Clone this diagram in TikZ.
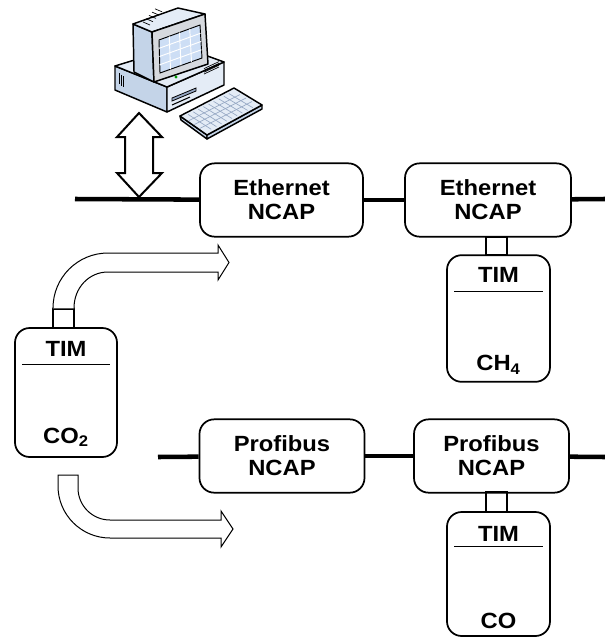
\documentclass[tikz,border=0pt]{standalone}
\usepackage{fontspec}
\setmainfont{Liberation Sans}[FakeStretch=1.08]
\usetikzlibrary{positioning,calc}

\definecolor{pclight}{RGB}{228,236,246}
\definecolor{pcmid}{RGB}{196,212,232}
\definecolor{pcdark}{RGB}{150,168,196}
\definecolor{pcscreen}{RGB}{205,222,245}
\definecolor{pcbezel}{RGB}{214,217,222}

\tikzset{
  ncap/.style={draw, line width=1.3pt, rounded corners=11pt, align=center,
    minimum width=122.25pt, minimum height=55pt, inner sep=0pt},
  tim/.style={draw, line width=1.3pt, rounded corners=11pt,
    minimum width=77.25pt, minimum height=95pt, inner sep=0pt},
  plug/.style={draw, line width=1pt, minimum width=15.75pt,
    minimum height=13.5pt, inner sep=0pt},
  bus/.style={line width=3.4pt},
  hollow/.style={draw, line width=0.75pt, fill=white, line join=miter},
  pcline/.style={draw, line width=1.1pt, line join=round}
}

\begin{document}
\begin{tikzpicture}[x=0.75pt, y=-0.75pt]\tikzstyle{every node}=[font=\bfseries\fontsize{16.5}{18}\selectfont]
\useasboundingbox (0,0) rectangle (605,640);
% computer: base unit
\draw[pcline, fill=pcmid] (115,66) -- (167,87) -- (167,112) -- (115,90) -- cycle;
\draw[pcline, fill=pclight] (167,87) -- (224,62) -- (224,85) -- (167,112) -- cycle;
\draw[pcline, fill=pclight] (115,66) -- (180,46) -- (224,62) -- (167,87) -- cycle;
\foreach \i in {0,2,4}
  \draw[line width=0.7pt] (119+\i,73+0.8*\i) -- (119+\i,84+0.8*\i);
\draw[line width=0.6pt, fill=pcdark] (172,98) -- (196,88) -- (196,91) -- (172,101) -- cycle;
\draw[line width=0.8pt] (172,105) -- (190,97);
\foreach \i in {0,2,4,6}
  \draw[line width=0.5pt] (204,74-0.9*\i) -- (219,67-0.9*\i);
% computer: monitor
\draw[pcline, fill=pcmid] (133,24) -- (152,32) -- (154,82) -- (134,72) -- cycle;
\draw[pcline, fill=pclight] (133,24) -- (178,8) -- (205,14) -- (152,32) -- cycle;
\foreach \i in {0,3,6,9,12}
  \draw[line width=0.5pt] (143+\i,22-1.1*\i) -- (150+\i,25-1.1*\i);
\draw[pcline, fill=pcbezel] (152,32) -- (205,14) -- (208,64) -- (154,82) -- cycle;
\draw[line width=0.7pt, fill=pcscreen] (159,40) -- (200,25) -- (202,58) -- (160,73) -- cycle;
\foreach \t in {0.25,0.5,0.75} {
  \draw[white, line width=0.7pt] ($(159,40)!\t!(200,25)$) -- ($(160,73)!\t!(202,58)$);
  \draw[white, line width=0.7pt] ($(159,40)!\t!(160,73)$) -- ($(200,25)!\t!(202,58)$);
}
\fill[green!60!black] (176,77) circle (1.3pt);
% computer: keyboard
\draw[pcline, fill=pcmid] (180,116) -- (207,135) -- (207,139) -- (181,120) -- cycle;
\draw[pcline, fill=pcmid] (207,135) -- (262,105) -- (262,109) -- (207,139) -- cycle;
\draw[pcline, fill=pclight] (180,116) -- (234,88) -- (262,105) -- (207,135) -- cycle;
\foreach \t in {0.1,0.2,...,0.91}
  \draw[pcdark, line width=0.5pt] ($(183,117)!\t!(234,91)$) -- ($(206,132)!\t!(258,105)$);
\foreach \t in {0.25,0.5,0.75}
  \draw[pcdark, line width=0.5pt] ($(183,117)!\t!(206,132)$) -- ($(234,91)!\t!(258,105)$);
% link computer <-> ethernet
\draw[hollow, line width=1.5pt] (139,113) -- (162,137) -- (153,137) -- (153,173) -- (162,173)
  -- (139,197) -- (117,173) -- (125,173) -- (125,137) -- (117,137) -- cycle;
% ethernet segment
\node[ncap] (ethA) at (281.5,200) {Ethernet\\NCAP};
\node[ncap, minimum width=124.5pt] (ethB) at (488,200) {Ethernet\\NCAP};
\coordinate (ethL) at (75,199);
\coordinate (ethR) at (605,199);
\draw[bus] (ethL) -- (ethA);
\draw[bus] (ethA) -- (ethB);
\draw[bus] (ethB) -- (ethR);
% ch4 tim
\node[plug] (plugCH) at (496.5,246) {};
\node[tim] (timCH) at (498.5,318.5) {};
\node[below=9.75pt of timCH.north, inner sep=0pt] (timCHtop) {TIM};
\draw[line width=0.9pt] ([xshift=6pt, yshift=-27.75pt]timCH.north west)
  -- ([xshift=-6pt, yshift=-27.75pt]timCH.north east);
\node[anchor=base, inner sep=0pt] (timCHgas) at ([yshift=9pt]timCH.south) {CH\textsubscript{4}};
% profibus segment
\node[ncap, minimum width=123.75pt] (proA) at (282,456) {Profibus\\NCAP};
\node[ncap, minimum width=116.25pt] (proB) at (491.5,456) {Profibus\\NCAP};
\coordinate (proL) at (158,457);
\coordinate (proR) at (605,457);
\draw[bus] (proL) -- (proA);
\draw[bus] (proA) -- (proB);
\draw[bus] (proB) -- (proR);
% co tim
\node[plug, minimum height=15pt] (plugCO) at (496.5,502) {};
\node[tim, minimum height=93pt] (timCO) at (498.5,574) {};
\node[below=11pt of timCO.north, inner sep=0pt] (timCOtop) {TIM};
\draw[line width=0.9pt] ([xshift=6pt, yshift=-26.25pt]timCO.north west)
  -- ([xshift=-6pt, yshift=-26.25pt]timCO.north east);
\node[anchor=base, inner sep=0pt] (timCOgas) at ([yshift=6pt]timCO.south) {CO};
% co2 tim
\node[plug, minimum height=14.25pt] (plugCOtwo) at (63.5,318.5) {};
\node[tim, minimum width=76.5pt, minimum height=96.75pt] (timCOtwo) at (66,392.5) {};
\node[below=10.5pt of timCOtwo.north, inner sep=0pt] (timCOtwotop) {TIM};
\draw[line width=0.9pt] ([xshift=6pt, yshift=-27.75pt]timCOtwo.north west)
  -- ([xshift=-6pt, yshift=-27.75pt]timCOtwo.north east);
\node[anchor=base, inner sep=0pt] (timCOtwogas) at ([yshift=11pt]timCOtwo.south) {CO\textsubscript{2}};
% co2 tim moving to ethernet
\draw[hollow] (plugCOtwo.north west) -- (53,308) .. controls (53,277.6) and (77.6,253) .. (108,253)
  -- (218,253) -- (218,245) -- (229,262.5) -- (218,280) -- (218,272) -- (108,272)
  .. controls (88.7,272) and (74,288) .. (74,308) -- (plugCOtwo.north east);
% co2 tim moving to profibus
\draw[hollow] (58,475) -- (58,486) .. controls (58,514.7) and (81.3,538) .. (110,538)
  -- (221,538) -- (221,547) -- (233,529) -- (221,511) -- (221,520) -- (110,520)
  .. controls (92.3,520) and (78,505.7) .. (78,488) -- (78,475) -- cycle;
\end{tikzpicture}
\end{document}
